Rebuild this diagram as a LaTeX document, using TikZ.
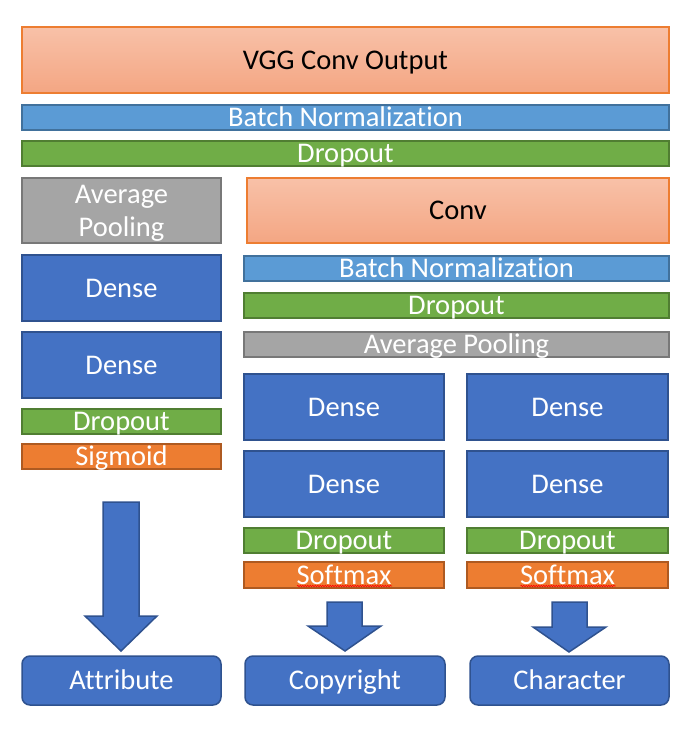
\documentclass[tikz,border=0pt]{standalone}
\usepackage{fontspec}
\setmainfont{Carlito}[Ligatures={NoCommon}]
\usetikzlibrary{calc,decorations.pathmorphing}
\definecolor{peachtop}{HTML}{F8C1A8}
\definecolor{peachbot}{HTML}{F4A683}
\definecolor{orgborder}{HTML}{ED7D31}
\definecolor{bnfill}{HTML}{5B9BD5}
\definecolor{bnborder}{HTML}{41719C}
\definecolor{dofill}{HTML}{70AD47}
\definecolor{doborder}{HTML}{507E32}
\definecolor{apfill}{HTML}{A5A5A5}
\definecolor{apborder}{HTML}{787878}
\definecolor{dnfill}{HTML}{4472C4}
\definecolor{dnborder}{HTML}{2F528F}
\definecolor{smfill}{HTML}{ED7D31}
\definecolor{smborder}{HTML}{AE5A21}
\tikzset{
  blk/.style={rectangle, anchor=north west, inner sep=0pt, outer sep=0pt, line width=1.5pt,
    font=\fontsize{28.5}{34}\selectfont, text=white, align=center,
    text height=18.4pt, text depth=0pt},
  convbox/.style={blk, draw=orgborder, top color=peachtop, bottom color=peachbot, text=black},
  bnbox/.style={blk, draw=bnborder, fill=bnfill},
  dobox/.style={blk, draw=doborder, fill=dofill},
  apbox/.style={blk, draw=apborder, fill=apfill},
  dnbox/.style={blk, draw=dnborder, fill=dnfill},
  smbox/.style={blk, draw=smborder, fill=smfill},
  outbox/.style={blk, draw=dnborder, fill=dnfill, rounded corners=8pt},
  lbl/.style={inner sep=0pt, text=white, font=\fontsize{28.5}{34}\selectfont, text height=18.4pt, text depth=0pt},
  barrow/.style={draw=dnborder, fill=dnfill, line width=1.5pt, line join=miter},
  squig/.style={draw=red, line width=0.6pt, decorate, decoration={snake, amplitude=0.8pt, segment length=2.5pt}}
}
\begin{document}
\begin{tikzpicture}[x=1pt,y=-1pt]
\useasboundingbox (0,0) rectangle (687,733);
% top shared stack
\node[convbox, minimum width=647pt, minimum height=66pt] (vgg) at (22,27) {VGG Conv Output};
\node[bnbox, minimum width=647pt, minimum height=25pt] (bn0) at (22,105) {Batch Normalization};
\node[dobox, minimum width=647pt, minimum height=25pt] (do0) at (22,141) {Dropout};
% left branch
\node[apbox, minimum width=199pt, minimum height=65pt] (apL) at (22,178) {};
\node[lbl] (apLa) at ($(apL.center)+(0,-16)$) {Average};
\node[lbl] (apLb) at ($(apL.center)+(0,17)$) {Pooling};
\node[dnbox, minimum width=199pt, minimum height=66pt] (dnL1) at (22,255) {Dense};
\node[dnbox, minimum width=199pt, minimum height=66pt] (dnL2) at (22,332) {Dense};
\node[dobox, minimum width=199pt, minimum height=25pt] (doL) at (22,409) {Dropout};
\node[smbox, minimum width=199pt, minimum height=25pt] (sgL) at (22,444) {Sigmoid};
% right shared
\node[convbox, minimum width=422pt, minimum height=65pt] (conv) at (247,178) {Conv};
\node[bnbox, minimum width=425pt, minimum height=25pt] (bn1) at (244,256) {Batch Normalization};
\node[dobox, minimum width=425pt, minimum height=25pt] (do1) at (244,293) {Dropout};
\node[apbox, minimum width=425pt, minimum height=25pt] (ap1) at (244,332) {Average Pooling};
% middle branch
\node[dnbox, minimum width=200pt, minimum height=66pt] (dnM1) at (244,374) {Dense};
\node[dnbox, minimum width=200pt, minimum height=66pt] (dnM2) at (244,451) {Dense};
\node[dobox, minimum width=200pt, minimum height=25pt] (doM) at (244,528) {Dropout};
\node[smbox, minimum width=200pt, minimum height=26pt] (smM) at (244,562) {Softmax};
% right branch
\node[dnbox, minimum width=201pt, minimum height=66pt] (dnR1) at (467,374) {Dense};
\node[dnbox, minimum width=201pt, minimum height=66pt] (dnR2) at (467,451) {Dense};
\node[dobox, minimum width=201pt, minimum height=25pt] (doR) at (467,528) {Dropout};
\node[smbox, minimum width=201pt, minimum height=26pt] (smR) at (467,562) {Softmax};
% outputs
\node[outbox, minimum width=199pt, minimum height=49pt] (att) at (22,656) {Attribute};
\node[outbox, minimum width=200pt, minimum height=49pt] (cop) at (245,656) {Copyright};
\node[outbox, minimum width=199pt, minimum height=49pt] (chr) at (470,656) {Character};
% spell-check squiggles
\draw[squig] ($(smM.center)+(-47,11)$) -- ($(smM.center)+(48,11)$);
\draw[squig] ($(smR.center)+(-47,11)$) -- ($(smR.center)+(48,11)$);
% block arrows
\draw[barrow] (103,502) -- (139,502) -- (139,616) -- (157,616) -- (121,651) -- (85,616) -- (103,616) -- cycle;
\draw[barrow] (327,602) -- (362,602) -- (362,626) -- (381,626) -- (345,651) -- (308,626) -- (327,626) -- cycle;
\draw[barrow] (552,602) -- (587,602) -- (587,627) -- (606,627) -- (569,652) -- (533,627) -- (552,627) -- cycle;
\end{tikzpicture}
\end{document}
